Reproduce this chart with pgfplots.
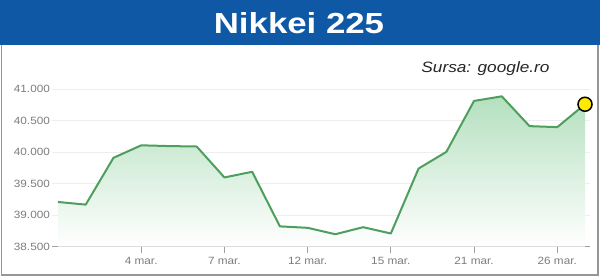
\documentclass[border=0pt]{standalone}
\usepackage{pgfplots}
\pgfplotsset{compat=1.18}
\usepackage{fontspec}
\setmainfont{Liberation Sans}

\definecolor{banner}{RGB}{14,88,166}
\definecolor{linegreen}{RGB}{78,158,94}
\definecolor{fillgreen}{RGB}{180,224,191}
\definecolor{gridgray}{RGB}{238,238,238}
\definecolor{axisgray}{RGB}{160,160,160}
\definecolor{labelgray}{RGB}{125,125,125}
\definecolor{framegray}{RGB}{150,150,150}
\definecolor{markyellow}{RGB}{255,234,0}

% Nikkei 225 closes, 28 Feb -- 27 Mar (trading days)
\pgfplotstableread{
idx close
0  39208
1  39166
2  39910
3  40109
4  40097
5  40090
6  39598
7  39688
8  38820
9  38797
10 38695
11 38807
12 38707
13 39740
14 40004
15 40815
16 40888
17 40414
18 40398
19 40762
}\closes

% same series, closed down to the baseline for the shaded area
\pgfplotstableread{
idx close
0  38500
0  39208
1  39166
2  39910
3  40109
4  40097
5  40090
6  39598
7  39688
8  38820
9  38797
10 38695
11 38807
12 38707
13 39740
14 40004
15 40815
16 40888
17 40414
18 40398
19 40762
19 38500
}\area

\begin{document}
\begin{tikzpicture}[x=1pt,y=1pt]
\useasboundingbox (0,0) rectangle (600,279);
\fill[white] (0,0) rectangle (600,279);
% panel frame
\draw[framegray, line width=1.5pt] (1.5,4) rectangle (598,236);
% title banner
\fill[banner] (0,234) rectangle (600,279);
\node[text=white, font=\bfseries\fontsize{29}{30}\selectfont, xscale=1.2, anchor=base]
  at (299,245.7) {Nikkei 225};
\node[text=black!85, font=\itshape\fontsize{15}{16}\selectfont, xscale=1.15, anchor=base]
  at (485.5,206.7) {Sursa: google.ro};

\begin{axis}[
  at={(52pt,32.5pt)}, anchor=south west,
  scale only axis, width=538pt, height=169.8pt,
  xmin=-0.216, xmax=19.18,
  ymin=38500, ymax=41200,
  clip=false,
  scaled y ticks=false,
  axis x line=bottom, axis y line=left,
  x axis line style={draw=axisgray, line width=1pt, -},
  y axis line style={draw=none},
  xtick={3,6,9,12,15,18},
  xticklabels={4 mar., 7 mar., 12 mar., 15 mar., 21 mar., 26 mar.},
  ytick={38500,39000,39500,40000,40500,41000},
  yticklabels={38.500,39.000,39.500,40.000,40.500,41.000},
  ymajorgrids, major grid style={draw=gridgray, line width=0.8pt},
  xtick style={draw=axisgray, line width=1pt},
  ytick style={draw=none},
  tick align=outside, major tick length=6pt,
  tick label style={text=labelgray, font=\fontsize{10.5}{12}\selectfont, xscale=1.12},
  xticklabel style={yshift=-1pt},
  yticklabel style={xshift=7pt},
]
\addplot[draw=none, shade, top color=fillgreen, bottom color=white] table[x=idx,y=close] {\area};
\addplot[linegreen, line width=2pt, line join=round] table[x=idx,y=close] {\closes};
\addplot[only marks, mark=*, mark size=7pt,
  mark options={fill=markyellow, draw=black, line width=1.5pt}] coordinates {(19,40762)};
\end{axis}
\end{tikzpicture}
\end{document}
